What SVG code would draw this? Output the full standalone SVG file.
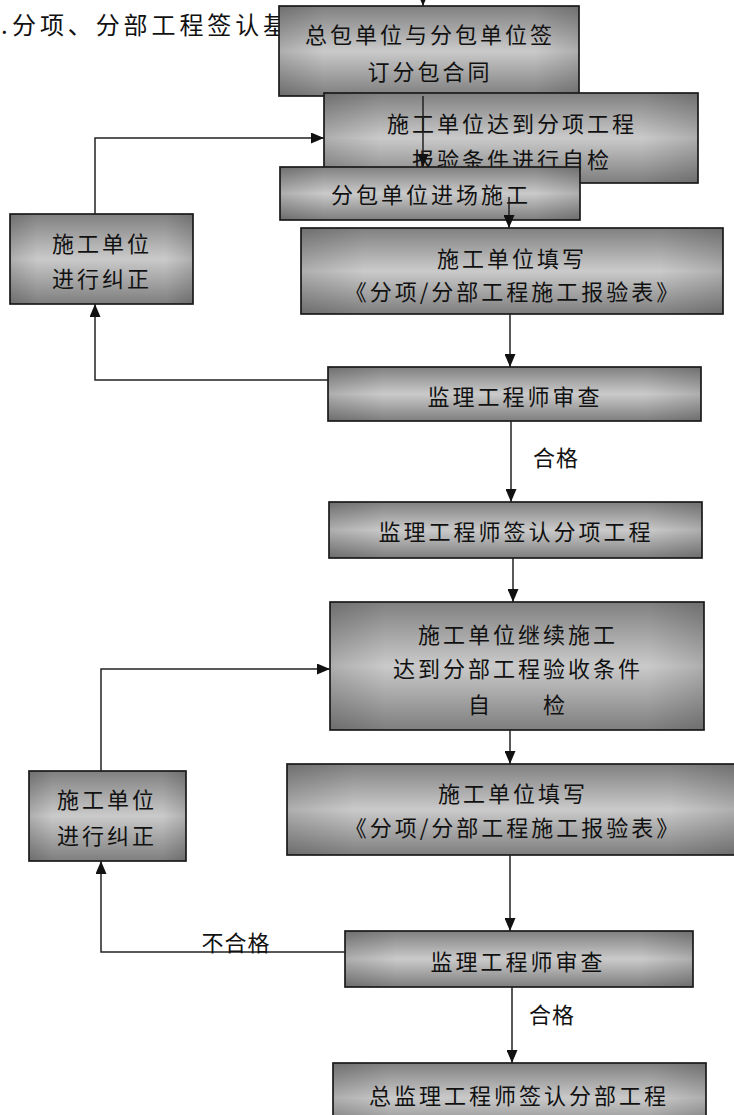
<svg xmlns="http://www.w3.org/2000/svg" width="734" height="1115" viewBox="0 0 734 1115">
<style>
.bx{fill:url(#gv);stroke:#1c1c1c;stroke-width:1.7}
.sh{fill:url(#gh);stroke:none}
.t{font-family:"Noto Sans CJK SC","Noto Sans CJK JP",sans-serif;font-size:22px;letter-spacing:3px;text-anchor:middle;dominant-baseline:central;fill:#111}
.lb{font-family:"Noto Sans CJK SC","Noto Sans CJK JP",sans-serif;font-size:22px;letter-spacing:1px;text-anchor:middle;dominant-baseline:central;fill:#111}
.ti{font-family:"Noto Sans CJK SC","Noto Sans CJK JP",sans-serif;font-size:24px;letter-spacing:3.9px;fill:#111}
.c{fill:none;stroke:#222;stroke-width:1.5}
</style>
<defs>
<linearGradient id="gv" x1="0" y1="0" x2="0" y2="1">
<stop offset="0" stop-color="#808080"/>
<stop offset="0.5" stop-color="#cacaca"/>
<stop offset="1" stop-color="#7e7e7e"/>
</linearGradient>
<linearGradient id="gh" x1="0" y1="0" x2="1" y2="0">
<stop offset="0" stop-color="#000" stop-opacity="0.14"/>
<stop offset="0.15" stop-color="#000" stop-opacity="0"/>
<stop offset="0.85" stop-color="#000" stop-opacity="0"/>
<stop offset="1" stop-color="#000" stop-opacity="0.14"/>
</linearGradient>
<marker id="ar" viewBox="0 0 13 11" markerWidth="13" markerHeight="11" refX="13" refY="5.5" orient="auto" markerUnits="userSpaceOnUse">
<path d="M0,0 L13,5.5 L0,11 z" fill="#111"/>
</marker>
</defs>
<rect width="734" height="1115" fill="#fff"/>
<g id="title">
<text class="ti" x="1" y="34">.</text>
<text class="ti" x="12" y="34">分项、分部工程签认基</text>
</g>
<g id="n1"><rect class="bx" x="279" y="6" width="300" height="90"/><rect class="sh" x="279" y="6" width="300" height="90"/>
<text class="t" x="430" y="33">总包单位与分包单位签</text><text class="t" x="430" y="70">订分包合同</text></g>
<g id="n2"><rect class="bx" x="324" y="93" width="374" height="90"/><rect class="sh" x="324" y="93" width="374" height="90"/>
<text class="t" x="512" y="122">施工单位达到分项工程</text><text class="t" x="512" y="158">报验条件进行自检</text></g>
<g id="n3"><rect class="bx" x="280" y="167" width="300" height="53"/><rect class="sh" x="280" y="167" width="300" height="53"/>
<text class="t" x="431" y="193">分包单位进场施工</text></g>
<g id="n4"><rect class="bx" x="301" y="228" width="422" height="86"/><rect class="sh" x="301" y="228" width="422" height="86"/>
<text class="t" x="512" y="257">施工单位填写</text><text class="t" x="513" y="290">《分项/分部工程施工报验表》</text></g>
<g id="n5"><rect class="bx" x="10" y="214" width="183" height="90"/><rect class="sh" x="10" y="214" width="183" height="90"/>
<text class="t" x="102" y="242">施工单位</text><text class="t" x="102" y="277">进行纠正</text></g>
<g id="n6"><rect class="bx" x="328" y="367" width="373" height="54"/><rect class="sh" x="328" y="367" width="373" height="54"/>
<text class="t" x="515" y="395">监理工程师审查</text></g>
<g id="n7"><rect class="bx" x="329" y="502" width="373" height="56"/><rect class="sh" x="329" y="502" width="373" height="56"/>
<text class="t" x="516" y="530">监理工程师签认分项工程</text></g>
<g id="n8"><rect class="bx" x="330" y="602" width="374" height="128"/><rect class="sh" x="330" y="602" width="374" height="128"/>
<text class="t" x="518" y="633">施工单位继续施工</text><text class="t" x="518" y="667">达到分部工程验收条件</text><text class="t" x="518" y="703">自　　检</text></g>
<g id="n9"><rect class="bx" x="287" y="764" width="450" height="91"/><rect class="sh" x="287" y="764" width="450" height="91"/>
<text class="t" x="513" y="792">施工单位填写</text><text class="t" x="513" y="826">《分项/分部工程施工报验表》</text></g>
<g id="n10"><rect class="bx" x="29" y="771" width="157" height="90"/><rect class="sh" x="29" y="771" width="157" height="90"/>
<text class="t" x="107" y="798">施工单位</text><text class="t" x="107" y="834">进行纠正</text></g>
<g id="n11"><rect class="bx" x="345" y="931" width="348" height="56"/><rect class="sh" x="345" y="931" width="348" height="56"/>
<text class="t" x="518" y="960">监理工程师审查</text></g>
<g id="n12"><rect class="bx" x="333" y="1063" width="373" height="70"/><rect class="sh" x="333" y="1063" width="373" height="70"/>
<text class="t" x="519" y="1094">总监理工程师签认分部工程</text></g>
<g id="connectors">
<path class="c" d="M423,-10 V6" marker-end="url(#ar)"/>
<path class="c" d="M423,96 V167" marker-end="url(#ar)"/>
<path class="c" d="M509,197 V228" marker-end="url(#ar)"/>
<path class="c" d="M95,214 V138 H324" marker-end="url(#ar)"/>
<path class="c" d="M328,380 H95 V304" marker-end="url(#ar)"/>
<path class="c" d="M510,314 V367" marker-end="url(#ar)"/>
<path class="c" d="M511,421 V502" marker-end="url(#ar)"/>
<path class="c" d="M513,558 V602" marker-end="url(#ar)"/>
<path class="c" d="M510,730 V764" marker-end="url(#ar)"/>
<path class="c" d="M101,771 V669 H330" marker-end="url(#ar)"/>
<path class="c" d="M510,855 V931" marker-end="url(#ar)"/>
<path class="c" d="M345,952 H101 V861" marker-end="url(#ar)"/>
<path class="c" d="M512,987 V1063" marker-end="url(#ar)"/>
<text class="lb" x="556" y="456">合格</text>
<text class="lb" x="236" y="941">不合格</text>
<text class="lb" x="552" y="1013">合格</text>
</g>
</svg>
